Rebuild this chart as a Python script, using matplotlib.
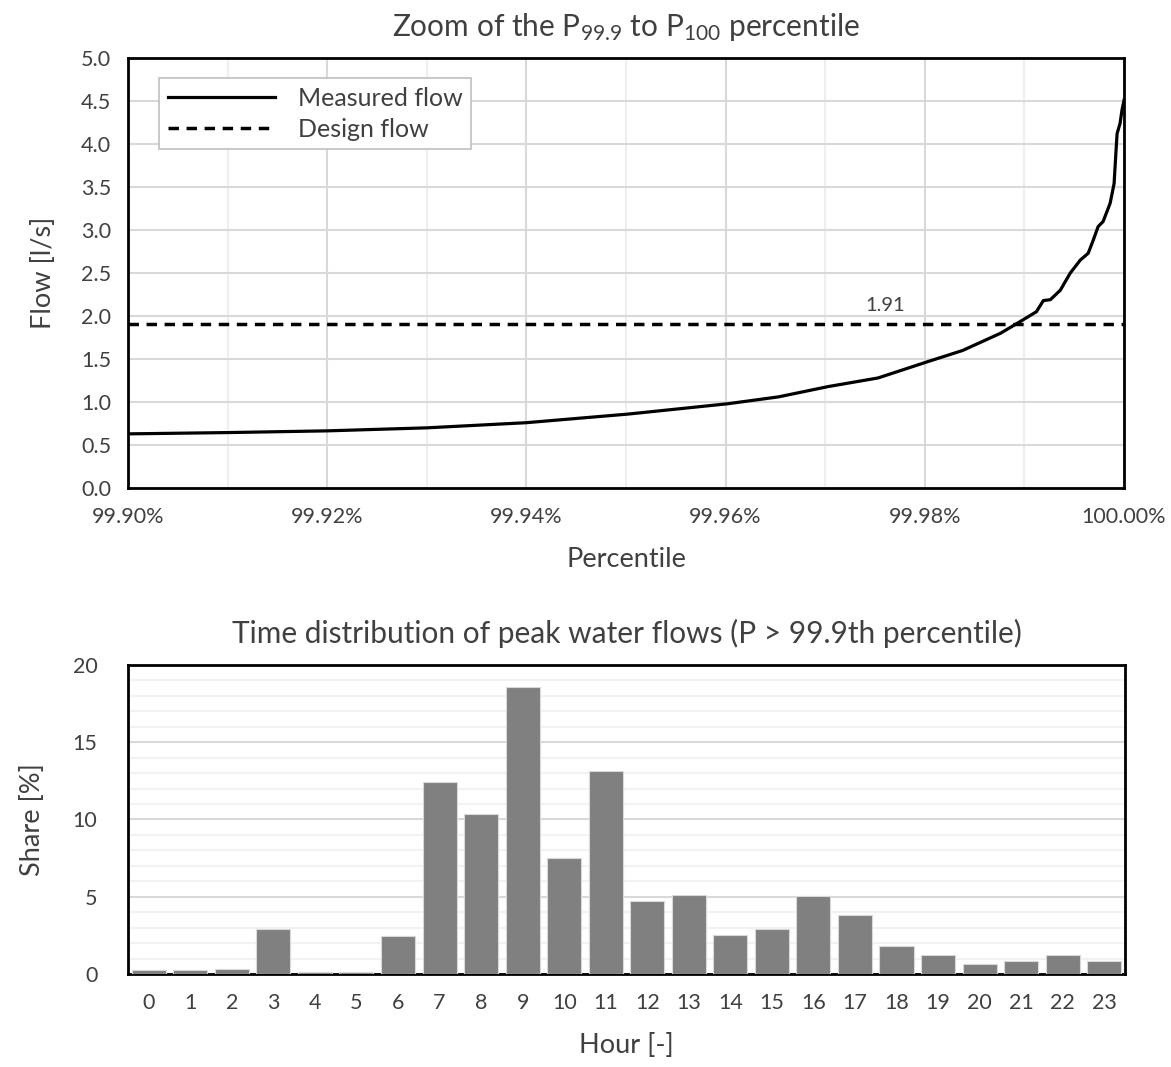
import matplotlib
matplotlib.use("Agg")
import matplotlib.pyplot as plt
from matplotlib.ticker import MultipleLocator, FuncFormatter

plt.rcParams['font.family'] = ['Lato', 'DejaVu Sans']
plt.rcParams['mathtext.default'] = 'regular'

# top chart: measured flow vs percentile
percentile = [99.9000, 99.9100, 99.9200, 99.9300, 99.9400, 99.9502, 99.9602,
              99.9653, 99.9703, 99.9753, 99.9803, 99.9838, 99.9876, 99.9892,
              99.9912, 99.9919, 99.9926, 99.9936, 99.9946, 99.9956, 99.9964,
              99.9969, 99.9974, 99.9979, 99.9986, 99.9990, 99.9992, 99.9993,
              99.9996, 99.9998, 100.0]
flow = [0.63, 0.645, 0.665, 0.70, 0.76, 0.86, 0.98,
        1.06, 1.18, 1.28, 1.47, 1.60, 1.80, 1.91,
        2.05, 2.18, 2.19, 2.30, 2.50, 2.65, 2.73,
        2.88, 3.04, 3.10, 3.31, 3.54, 3.93, 4.12,
        4.24, 4.40, 4.51]
design_flow = 1.91

# bottom chart: share of peak flows per hour
hours = list(range(24))
share = [0.25, 0.25, 0.35, 2.9, 0.15, 0.15, 2.45, 12.4, 10.35, 18.55, 7.5, 13.15,
         4.7, 5.1, 2.5, 2.9, 5.05, 3.8, 1.8, 1.25, 0.65, 0.85, 1.22, 0.85]

fig = plt.figure(figsize=(11.71, 10.67), dpi=100)
ax1 = fig.add_axes([0.1093, 0.5426, 0.8506, 0.4030])
ax2 = fig.add_axes([0.1093, 0.0872, 0.8514, 0.2896])

txt = '#404040'

# ---- top ----
ax1.plot(percentile, flow, color='black', lw=2.3, label='Measured flow', zorder=3)
ax1.axhline(design_flow, color='black', lw=2.5, ls=(0, (3, 2.2)), label='Design flow', zorder=3)
ax1.text(99.976, design_flow + 0.11, '%.2f' % design_flow, ha='center', va='bottom',
         fontsize=14.5, color=txt)
ax1.set_xlim(99.9, 100.0)
ax1.set_ylim(0, 5)
ax1.xaxis.set_major_locator(MultipleLocator(0.02))
ax1.xaxis.set_minor_locator(MultipleLocator(0.01))
ax1.yaxis.set_major_locator(MultipleLocator(0.5))
ax1.xaxis.set_major_formatter(FuncFormatter(lambda v, p: '%.2f%%' % v))
ax1.yaxis.set_major_formatter(FuncFormatter(lambda v, p: '%.1f' % v))
ax1.grid(which='major', color='#d9d9d9', lw=1.5)
ax1.grid(which='minor', axis='x', color='#efefef', lw=1.5)
ax1.set_axisbelow(True)
ax1.tick_params(which='both', length=0, labelsize=15.5, colors=txt)
ax1.tick_params(axis='x', pad=14)
ax1.tick_params(axis='y', pad=12)
ax1.set_title('Zoom of the P$_{99.9}$ to P$_{100}$ percentile', fontsize=21.5, color=txt, pad=16)
ax1.set_xlabel('Percentile', fontsize=19.5, color=txt, labelpad=14)
ax1.set_ylabel('Flow [l/s]', fontsize=19.5, color=txt, labelpad=18)
leg = ax1.legend(loc='upper left', bbox_to_anchor=(0.031, 0.953), fontsize=18, fancybox=False,
                 framealpha=1, edgecolor='#bfbfbf', handlelength=4.3, borderpad=0.35,
                 labelspacing=0.3, handletextpad=0.9, borderaxespad=0)
for t in leg.get_texts():
    t.set_color(txt)
leg.get_frame().set_linewidth(1.2)

# ---- bottom ----
ax2.bar(hours, share, width=0.82, color='#808080', edgecolor='#d9d9d9', lw=0.8, zorder=3)
ax2.set_xlim(-0.5, 23.5)
ax2.set_ylim(0, 20)
ax2.set_xticks(hours)
ax2.yaxis.set_major_locator(MultipleLocator(5))
ax2.yaxis.set_minor_locator(MultipleLocator(1))
ax2.grid(which='major', axis='y', color='#d9d9d9', lw=1.5)
ax2.grid(which='minor', axis='y', color='#f2f2f2', lw=1.5)
ax2.set_axisbelow(True)
ax2.tick_params(which='both', length=0, labelsize=15.5, colors=txt)
ax2.tick_params(axis='x', pad=14)
ax2.tick_params(axis='y', pad=22)
ax2.set_title('Time distribution of peak water flows (P > 99.9th percentile)', fontsize=21.5,
              color=txt, pad=16)
ax2.set_xlabel('Hour [-]', fontsize=19.5, color=txt, labelpad=14)
ax2.set_ylabel('Share [%]', fontsize=19.5, color=txt, labelpad=20)

for ax in (ax1, ax2):
    for s in ax.spines.values():
        s.set_color('black')
        s.set_linewidth(2)

fig.savefig('out.png', dpi=100)
